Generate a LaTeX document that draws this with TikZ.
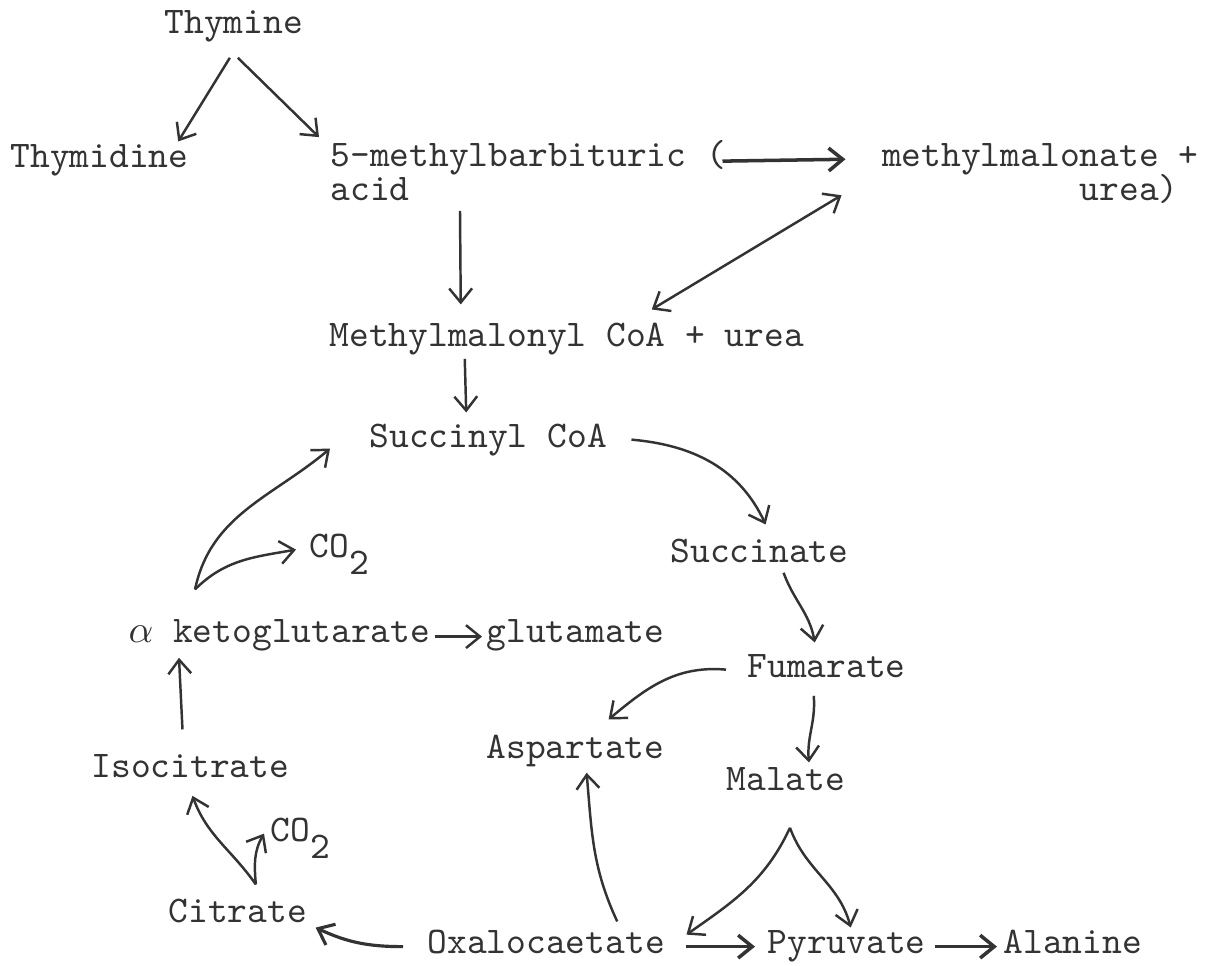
\documentclass[tikz,border=0pt]{standalone}
\usepackage{fontspec}
\usetikzlibrary{arrows.meta}
\definecolor{ink}{gray}{0.2}
\newcommand\typewriter{\fontsize{10.7pt}{9.4pt}\selectfont\ttfamily\lineskiplimit=-20pt\relax}

\begin{document}
\begin{tikzpicture}[
  x=0.01cm, y=-0.01cm,
  chem/.style={anchor=base west, inner sep=0pt, font=\typewriter, text=ink, text height=6.5pt, text depth=2.3pt},
  lines/.style={anchor=base west, inner sep=0pt, font=\typewriter, text=ink},
  rxn/.style={draw=ink, line width=0.7pt, -{Straight Barb[length=4pt,width=6.5pt]}},
  twoway/.style={rxn, {Straight Barb[length=4pt,width=6.5pt]}-{Straight Barb[length=4pt,width=6.5pt]}}
]
\useasboundingbox (0,0) rectangle (1217,966);

% the base of a two-line node is the baseline of its last line
\node[chem] (thymine) at (164,33) {Thymine};
\node[chem] (thymidine) at (10,167) {Thymidine};
\node[lines, align=left] (barb) at (330,200) {5-methylbarbituric (\\acid};
\node[lines, align=right, anchor=base east] (malonate) at (1199,200) {methylmalonate +\\urea)\hspace*{0.525em}};
\node[chem] (mmcoa) at (329,346) {Methylmalonyl CoA + urea};
\node[chem] (succoa) at (369,447) {Succinyl CoA};
\node[chem] (co2a) at (309,557) {CO\raisebox{-0.47em}{2}};
\node[chem] (succinate) at (670,562) {Succinate};
\node[chem] (akg) at (128,642) {$\alpha$ ketoglutarate};
\node[chem] (glutamate) at (486,642) {glutamate};
\node[chem] (fumarate) at (747,677) {Fumarate};
\node[chem] (aspartate) at (486,758) {Aspartate};
\node[chem] (isocitrate) at (91,777) {Isocitrate};
\node[chem] (malate) at (726,790) {Malate};
\node[chem] (co2b) at (270,841) {CO\raisebox{-0.47em}{2}};
\node[chem] (citrate) at (168,922) {Citrate};
\node[chem] (oxalo) at (427,953) {Oxalocaetate};
\node[chem] (pyruvate) at (767,953) {Pyruvate};
\node[chem] (alanine) at (1003,953) {Alanine};

% top part
\draw[rxn] ([shift={(-4,16)}]thymine.south) -- ([shift={(-11,-2)}]thymidine.north east);
\draw[rxn] ([shift={(4,16)}]thymine.south) -- ([shift={(-11,-3)}]barb.north west);
\draw[rxn] ([shift={(130,10)}]barb.south west) -- ([shift={(-106,-18)}]mmcoa.north);
\draw[rxn, line width=1pt] ([shift={(-4,21)}]barb.north east) -- ([shift={(-36,16)}]malonate.north west);
\draw[twoway] ([shift={(85,-13)}]mmcoa.north) -- ([shift={(-40,52)}]malonate.north west);
\draw[rxn] ([shift={(-102,4)}]mmcoa.south) -- ([shift={(-22,-11)}]succoa.north);

% right side of the cycle
\draw[rxn] ([shift={(24,0)}]succoa.east) to[out=-5, in=115] ([shift={(6,-14)}]succinate.north);
\draw[rxn] ([shift={(24,2)}]succinate.south) to[out=-70, in=100] ([shift={(-12,-11)}]fumarate.north);
\draw[rxn] ([shift={(-21,0)}]fumarate.west) to[out=175, in=40] ([shift={(33,-15)}]aspartate.north);
\draw[rxn] ([shift={(-13,10)}]fumarate.south) to[out=-85, in=95] ([shift={(23,-4)}]malate.north);
\draw[rxn] ([shift={(4,29)}]malate.south) to[out=-115, in=35] ([shift={(21,-11)}]oxalo.east);
\draw[rxn] ([shift={(4,29)}]malate.south) to[out=-70, in=105] ([shift={(4,-2)}]pyruvate.north);
\draw[rxn, line width=1pt] ([shift={(21,1)}]oxalo.east) -- ([shift={(-12,1)}]pyruvate.west);
\draw[rxn, line width=1pt] ([shift={(9,1)}]pyruvate.east) -- ([shift={(-6,1)}]alanine.west);
\draw[rxn] ([shift={(71,-8)}]oxalo.north) to[out=115, in=-85] ([shift={(11,6)}]aspartate.south);

% left side of the cycle
\draw[rxn, line width=0.9pt] ([shift={(-24,1)}]oxalo.west) to[out=180, in=-25] ([shift={(8,13)}]citrate.east);
\draw[rxn] ([shift={(18,-14)}]citrate.north) to[out=125, in=-70] ([shift={(2,10)}]isocitrate.south);
\draw[rxn] ([shift={(18,-14)}]citrate.north) to[out=95, in=-120] ([shift={(-6,0)}]co2b.west);
\draw[rxn] ([shift={(-8,-24)}]isocitrate.north) -- ([shift={(51,7)}]akg.south west);
\draw[rxn] ([shift={(67,-29)}]akg.north west) to[out=78, in=-140] ([shift={(-39,9)}]succoa.west);
\draw[rxn] ([shift={(67,-29)}]akg.north west) to[out=45, in=-170] ([shift={(-13,0)}]co2a.west);
\draw[rxn] ([shift={(4,2)}]akg.east) -- ([shift={(-4,2)}]glutamate.west);
\end{tikzpicture}
\end{document}
